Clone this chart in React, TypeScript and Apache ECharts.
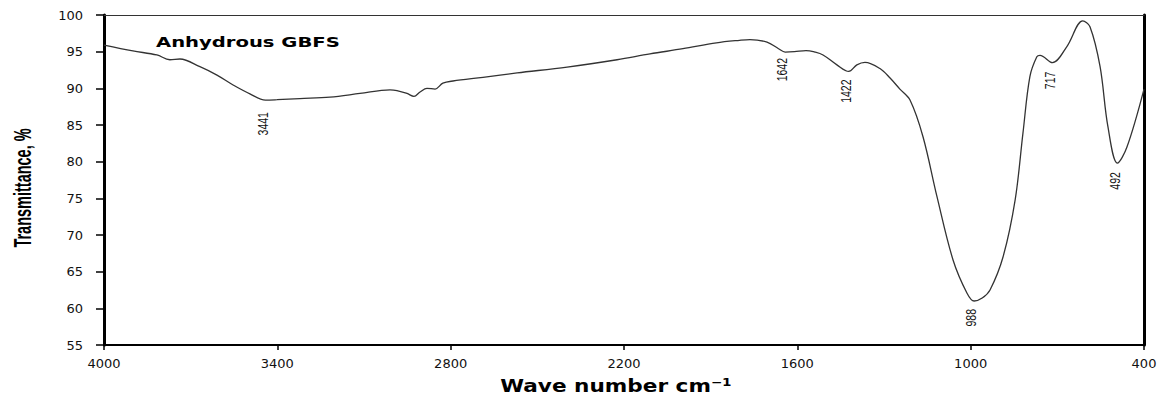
import React, { useEffect, useRef } from "react";
import * as echarts from "echarts";

// FTIR spectrum of anhydrous GBFS
const wavenumbers = [
  4000, 3900, 3817, 3772, 3737, 3668, 3609, 3553, 3495, 3441, 3401, 3322, 3218, 3114, 3010, 2986,
  2951, 2927, 2906, 2882, 2854, 2827, 2792, 2688, 2570, 2397, 2224, 2110, 1996, 1880, 1800, 1764,
  1705, 1665, 1642, 1610, 1570, 1540, 1511, 1463, 1422, 1394, 1366, 1314, 1279, 1245, 1210, 1165,
  1117, 1061, 1013, 988, 960, 933, 888, 846, 819, 795, 771, 760, 717, 667, 612, 587, 552, 525, 492,
  459, 400,
];
const transmittance = [
  95.9, 95.1, 94.55, 93.9, 94.0, 92.95, 91.8, 90.45, 89.25, 88.4, 88.45, 88.6, 88.8, 89.3, 89.8, 89.7,
  89.3, 88.9, 89.5, 90.0, 89.9, 90.7, 91.0, 91.5, 92.1, 92.9, 93.9, 94.7, 95.4, 96.2, 96.55, 96.65,
  96.3, 95.4, 94.95, 95.0, 95.15, 94.95, 94.55, 93.2, 92.3, 93.2, 93.55, 92.7, 91.4, 89.9, 88.4, 83.4,
  75.3, 66.6, 62.1, 61.0, 61.4, 62.5, 67.0, 74.8, 83.9, 91.6, 94.3, 94.5, 93.5, 95.7, 99.2, 98.4, 92.95,
  84.8, 79.8, 82.0, 89.9,
];

// Annotated band positions
const peakLabels = ["3441", "1642", "1422", "988", "717", "492"];
const peakGap = [12, 6, 8, 8, 9, 9];

const xTicks = [4000, 3400, 2800, 2200, 1600, 1000, 400];

const tickFont = "DejaVu Sans, Verdana, sans-serif";
const arialFont = "Liberation Sans, Arial, sans-serif";

export default function App() {
  const ref = useRef<HTMLDivElement>(null);

  useEffect(() => {
    if (!ref.current) return;
    const chart = echarts.init(ref.current, null, { renderer: "svg" });
    const points = wavenumbers.map((w, i) => [w, transmittance[i]]);

    chart.setOption({
      animation: false,
      backgroundColor: "#ffffff",
      grid: { left: 104, top: 15, right: 25, bottom: 56 },
      xAxis: [
        {
          type: "value",
          min: 400,
          max: 4000,
          inverse: true,
          splitLine: { show: false },
          axisLine: { show: true, lineStyle: { color: "#000", width: 2 } },
          axisTick: { show: true, length: 5, customValues: xTicks, lineStyle: { color: "#000", width: 1.5 } },
          axisLabel: {
            customValues: xTicks,
            formatter: (v: number) => String(v),
            color: "#111",
            fontFamily: tickFont,
            fontSize: 13,
            margin: 12,
          },
        },
        {
          type: "value",
          position: "top",
          min: 400,
          max: 4000,
          inverse: true,
          splitLine: { show: false },
          axisLine: { show: true, onZero: false, lineStyle: { color: "#333", width: 1.2 } },
          axisTick: { show: false },
          axisLabel: { show: false },
        },
      ],
      yAxis: [
        {
          type: "value",
          min: 55,
          max: 100,
          interval: 5,
          splitLine: { show: false },
          axisLine: { show: true, lineStyle: { color: "#000", width: 3 } },
          axisTick: { show: true, length: 8, lineStyle: { color: "#000", width: 1.5 } },
          axisLabel: {
            color: "#111",
            fontFamily: tickFont,
            fontSize: 13,
            margin: 21,
          },
        },
        {
          type: "value",
          position: "right",
          min: 55,
          max: 100,
          interval: 5,
          splitLine: { show: false },
          axisLine: { show: true, onZero: false, lineStyle: { color: "#000", width: 3 } },
          axisTick: { show: false },
          axisLabel: { show: false },
        },
      ],
      series: [
        {
          type: "line",
          data: points,
          smooth: 0.35,
          showSymbol: false,
          lineStyle: { color: "#333", width: 1.3 },
        },
      ],
    });

    // Band labels, rotated, placed just beneath each band minimum
    const labelEls = peakLabels.map((lab, i) => {
      const w = Number(lab);
      const idx = wavenumbers.indexOf(w);
      const t = transmittance[idx];
      const [px, py] = chart.convertToPixel({ gridIndex: 0 }, [w, t]) as number[];
      return {
        type: "text",
        x: px - 3,
        y: py + peakGap[i],
        rotation: Math.PI / 2,
        scaleX: 0.7,
        style: {
          text: lab,
          fill: "#111",
          font: `15px ${arialFont}`,
          align: "right",
          verticalAlign: "middle",
        },
      };
    });

    chart.setOption({
      graphic: [
        {
          type: "text",
          x: 156,
          y: 42,
          scaleX: 1.4,
          style: {
            text: "Anhydrous GBFS",
            fill: "#000",
            font: `bold 14px ${tickFont}`,
            align: "left",
            verticalAlign: "middle",
          },
        },
        {
          type: "text",
          x: 23,
          y: 188,
          rotation: Math.PI / 2,
          scaleX: 0.63,
          style: {
            text: "Transmittance, %",
            fill: "#000",
            font: `bold 23px ${arialFont}`,
            align: "center",
            verticalAlign: "middle",
          },
        },
        {
          type: "text",
          x: 616,
          y: 386,
          scaleX: 1.2,
          style: {
            text: "Wave number cm⁻¹",
            fill: "#000",
            font: `bold 18px ${tickFont}`,
            align: "center",
            verticalAlign: "middle",
          },
        },
        ...labelEls,
      ],
    });

    return () => chart.dispose();
  }, []);

  return (
    <div
      ref={ref}
      style={{ position: "fixed", left: 0, top: 0, width: 1169, height: 401, background: "#fff" }}
    />
  );
}
